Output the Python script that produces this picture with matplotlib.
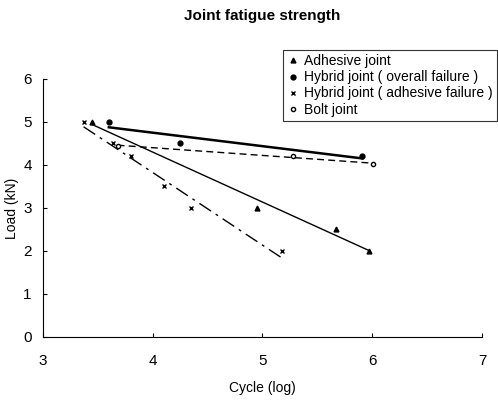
import matplotlib
matplotlib.use('Agg')
import matplotlib.pyplot as plt
import numpy as np

plt.rcParams['font.family'] = ['Liberation Sans', 'DejaVu Sans']

# cycle (log) and load (kN) for each joint type
adhCycle = [3.45, 4.95, 5.67, 5.97]
adhLoad = [5.0, 3.0, 2.5, 2.0]

hybCycle = [3.6, 4.25, 5.91]
hybLoad = [5.0, 4.5, 4.2]

hybAdhCycle = [3.37, 3.64, 3.8, 4.1, 4.35, 5.18]
hybAdhLoad = [5.0, 4.5, 4.2, 3.5, 3.0, 2.0]

boltCycle = [3.68, 5.28, 6.01]
boltLoad = [4.45, 4.2, 4.02]

fig = plt.figure(figsize=(4.98, 4.01), dpi=100)
ax = fig.add_axes([0.0863, 0.160, 0.8815, 0.643])

def fitline(x, y, ls, lw):
    p = np.polyfit(x, y, 1)
    xs = np.array([min(x), max(x)])
    ax.plot(xs, np.polyval(p, xs), color='black', linestyle=ls, linewidth=lw)

fitline(adhCycle, adhLoad, '-', 1.0)
fitline(hybCycle, hybLoad, '-', 1.8)
fitline(hybAdhCycle, hybAdhLoad, (0, (10, 4, 2, 4)), 1.0)
fitline(boltCycle, boltLoad, (0, (5, 3)), 1.0)

ax.plot(adhCycle, adhLoad, linestyle='none', marker='^', markersize=3.5, color='black', label='Adhesive joint')
ax.plot(hybCycle, hybLoad, linestyle='none', marker='o', markersize=3.5, color='black', label='Hybrid joint ( overall failure )')
ax.plot(hybAdhCycle, hybAdhLoad, linestyle='none', marker='x', markersize=3.5, color='black', label='Hybrid joint ( adhesive failure )')
ax.plot(boltCycle, boltLoad, linestyle='none', marker='o', markersize=3, markerfacecolor='white', markeredgecolor='black', label='Bolt joint')

ax.set_xlim(3, 7)
ax.set_ylim(0, 6)
ax.set_xticks([3, 4, 5, 6, 7])
ax.set_yticks([0, 1, 2, 3, 4, 5, 6])
ax.spines['top'].set_visible(False)
ax.spines['right'].set_visible(False)
ax.tick_params(direction='in', length=3, labelsize=11, pad=12)
ax.tick_params(axis='y', pad=8)

ax.set_xlabel('Cycle (log)', fontsize=10, labelpad=10)
ax.set_ylabel('Load (kN)', fontsize=10, labelpad=3)
fig.text(0.527, 0.960, 'Joint fatigue strength', ha='center', va='center', fontsize=11, fontweight='bold')

leg = ax.legend(loc='upper right', bbox_to_anchor=(0.998, 0.875), bbox_transform=fig.transFigure,
                fontsize=10, frameon=True, fancybox=False, handlelength=0.8, handletextpad=0.4,
                labelspacing=0.15, borderpad=0.3, borderaxespad=0)
leg.get_frame().set_edgecolor('black')
leg.get_frame().set_linewidth(0.8)

fig.savefig('out.png', dpi=100)
